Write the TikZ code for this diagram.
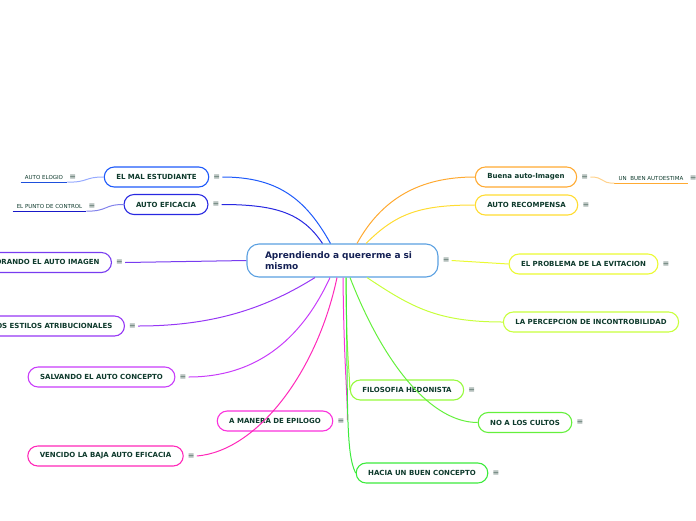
\documentclass[tikz,border=0pt]{standalone}
\usepackage{fontspec}
\setmainfont{DejaVu Sans}
\usetikzlibrary{positioning}

\definecolor{txtgreen}{RGB}{14,58,44}
\definecolor{topicnavy}{RGB}{20,32,84}
\definecolor{menugray}{RGB}{60,90,80}
\definecolor{centralblue}{RGB}{90,160,225}
\definecolor{malblue}{RGB}{30,90,250}
\definecolor{eficaciablue}{RGB}{40,40,225}
\definecolor{elogioblue}{RGB}{30,80,220}
\definecolor{elogiolight}{RGB}{150,170,255}
\definecolor{puntoblue}{RGB}{25,25,200}
\definecolor{puntolight}{RGB}{130,130,235}
\definecolor{mejoraviolet}{RGB}{120,60,240}
\definecolor{estilosviolet}{RGB}{150,55,245}
\definecolor{salvandoviolet}{RGB}{200,60,250}
\definecolor{epilogopink}{RGB}{250,50,220}
\definecolor{vencidopink}{RGB}{255,40,185}
\definecolor{buenaorange}{RGB}{255,170,50}
\definecolor{buenlight}{RGB}{255,210,140}
\definecolor{recompensayellow}{RGB}{255,220,50}
\definecolor{problemayellow}{RGB}{235,250,50}
\definecolor{percepciongreen}{RGB}{200,255,60}
\definecolor{filosofiagreen}{RGB}{150,250,60}
\definecolor{cultosgreen}{RGB}{100,240,60}
\definecolor{haciagreen}{RGB}{60,235,60}

\tikzset{
  topic/.style={draw=#1, line width=1.1pt, rounded corners=10pt, minimum height=20pt,
    inner xsep=12pt, inner ysep=0pt, fill=white, text=txtgreen,
    font=\fontsize{7}{8}\selectfont\bfseries},
  menu/.style={inner sep=0pt, text=menugray, font=\fontsize{8}{9}\selectfont},
  leaf/.style={inner xsep=4pt, inner ysep=2.5pt, text height=4pt, text depth=0pt,
    text=txtgreen, font=\fontsize{5.5}{6}\selectfont},
  link/.style={draw=#1, line width=1pt},
}

\begin{document}
\begin{tikzpicture}[x=1pt,y=-1pt]
    \useasboundingbox (0,0) rectangle (696,520);
    \clip (0,0) rectangle (696,520);

    % central topic
    \node[draw=centralblue, line width=1.1pt, rounded corners=12pt, minimum height=33pt,
      text width=155pt, inner xsep=18pt, align=left, text=topicnavy,
      font=\fontsize{9}{11}\selectfont\bfseries] (central) at (342.5,260.5) {Aprendiendo a quererme a si mismo};
    \node[menu, right=4pt of central] (centralm) {≡};

    % left branches
    \node[topic=malblue] (mal) at (156.5,177) {EL MAL ESTUDIANTE};
    \node[menu, right=4pt of mal] (malm) {≡};
    \node[topic=eficaciablue] (eficacia) at (166,204.5) {AUTO EFICACIA};
    \node[menu, right=4pt of eficacia] (eficaciam) {≡};
    \node[topic=mejoraviolet, anchor=east] (mejora) at (112,262.5) {MEJORANDO EL AUTO IMAGEN};
    \node[menu, right=4pt of mejora] (mejoram) {≡};
    \node[topic=estilosviolet, anchor=east] (estilos) at (125,326) {LOS ESTILOS ATRIBUCIONALES};
    \node[menu, right=4pt of estilos] (estilosm) {≡};
    \node[topic=salvandoviolet] (salvando) at (101.5,377) {SALVANDO EL AUTO CONCEPTO};
    \node[menu, right=4pt of salvando] (salvandom) {≡};
    \node[topic=epilogopink] (epilogo) at (275,421) {A MANERA DE EPILOGO};
    \node[menu, right=4pt of epilogo] (epilogom) {≡};
    \node[topic=vencidopink] (vencido) at (105.5,456) {VENCIDO LA BAJA AUTO EFICACIA};
    \node[menu, right=4pt of vencido] (vencidom) {≡};

    % right branches
    \node[topic=buenaorange] (buena) at (526,177) {Buena auto-Imagen};
    \node[menu, right=4pt of buena] (buenam) {≡};
    \node[topic=recompensayellow] (recompensa) at (526.5,205) {AUTO RECOMPENSA};
    \node[menu, right=4pt of recompensa] (recompensam) {≡};
    \node[topic=problemayellow] (problema) at (583.5,264) {EL PROBLEMA DE LA EVITACION};
    \node[menu, right=4pt of problema] (problemam) {≡};
    \node[topic=percepciongreen] (percepcion) at (591,322) {LA PERCEPCION DE INCONTROBILIDAD};
    \node[topic=filosofiagreen] (filosofia) at (407,390) {FILOSOFIA HEDONISTA};
    \node[menu, right=4pt of filosofia] (filosofiam) {≡};
    \node[topic=cultosgreen] (cultos) at (525,422.5) {NO A LOS CULTOS};
    \node[menu, right=4pt of cultos] (cultosm) {≡};
    \node[topic=haciagreen] (hacia) at (422,473) {HACIA UN BUEN CONCEPTO};
    \node[menu, right=4pt of hacia] (haciam) {≡};

    % subtopics
    \node[leaf] (elogio) at (44,177.5) {AUTO ELOGIO};
    \node[menu, right=2pt of elogio] (elogiom) {≡};
    \draw[elogioblue, line width=1.2pt] (elogio.south west) -- (elogio.south east);
    \node[leaf] (punto) at (49.5,206.5) {EL PUNTO DE CONTROL};
    \node[menu, right=2pt of punto] (puntom) {≡};
    \draw[puntoblue, line width=1.2pt] (punto.south west) -- (punto.south east);
    \node[leaf] (buen) at (651,178.5) {UN\ \ BUEN AUTOESTIMA};
    \node[menu, right=2pt of buen] (buenm) {≡};
    \draw[buenaorange, line width=1.2pt] (buen.south west) -- (buen.south east);

    % connectors
    \draw[link=malblue] ([xshift=-12pt]central.north) .. controls +(-25,-45) and +(55,0) .. ([xshift=2pt]malm.east);
    \draw[link=eficaciablue] ([xshift=-20pt]central.north) .. controls +(-20,-30) and +(55,0) .. ([xshift=2pt]eficaciam.east);
    \draw[link=mejoraviolet] (central.west) -- ([xshift=2pt]mejoram.east);
    \draw[link=estilosviolet] ([xshift=-27.5pt]central.south) .. controls +(-45,28) and +(80,0) .. ([xshift=2pt]estilosm.east);
    \draw[link=salvandoviolet] ([xshift=-12.5pt]central.south) .. controls +(-30,65) and +(65,0) .. ([xshift=2pt]salvandom.east);
    \draw[link=vencidopink] ([xshift=-5.5pt]central.south) .. controls +(-20,95) and +(60,-5) .. ([xshift=2pt]vencidom.east);
    \draw[link=epilogopink] ([xshift=0.5pt]central.south) .. controls +(1,90) and +(0,-30) .. ([xshift=3pt,yshift=1pt]epilogom.east);
    \draw[link=buenaorange] ([xshift=14.5pt]central.north) .. controls +(25,-45) and +(-55,0) .. (buena.west);
    \draw[link=recompensayellow] ([xshift=23.5pt]central.north) .. controls +(30,-30) and +(-55,0) .. (recompensa.west);
    \draw[link=problemayellow] ([xshift=2pt]centralm.east) -- (problema.west);
    \draw[link=percepciongreen] ([xshift=24.5pt]central.south) .. controls +(45,30) and +(-65,0) .. (percepcion.west);
    \draw[link=filosofiagreen] ([xshift=3.5pt]central.south) .. controls +(0,70) and +(0,-15) .. (filosofia.west);
    \draw[link=haciagreen] ([xshift=3.5pt]central.south) .. controls +(2,130) and +(-10,-20) .. (hacia.west);
    \draw[link=cultosgreen] ([xshift=7.5pt]central.south) .. controls +(35,90) and +(-45,0) .. (cultos.west);
    \draw[link=elogiolight] (elogio.south east) .. controls +(22,0) and +(-20,0) .. (mal.west);
    \draw[link=puntolight] (punto.south east) .. controls +(22,0) and +(-20,0) .. (eficacia.west);
    \draw[link=buenlight] ([xshift=2pt]buenam.east) .. controls +(15,0) and +(-15,0) .. (buen.south west);
\end{tikzpicture}
\end{document}
